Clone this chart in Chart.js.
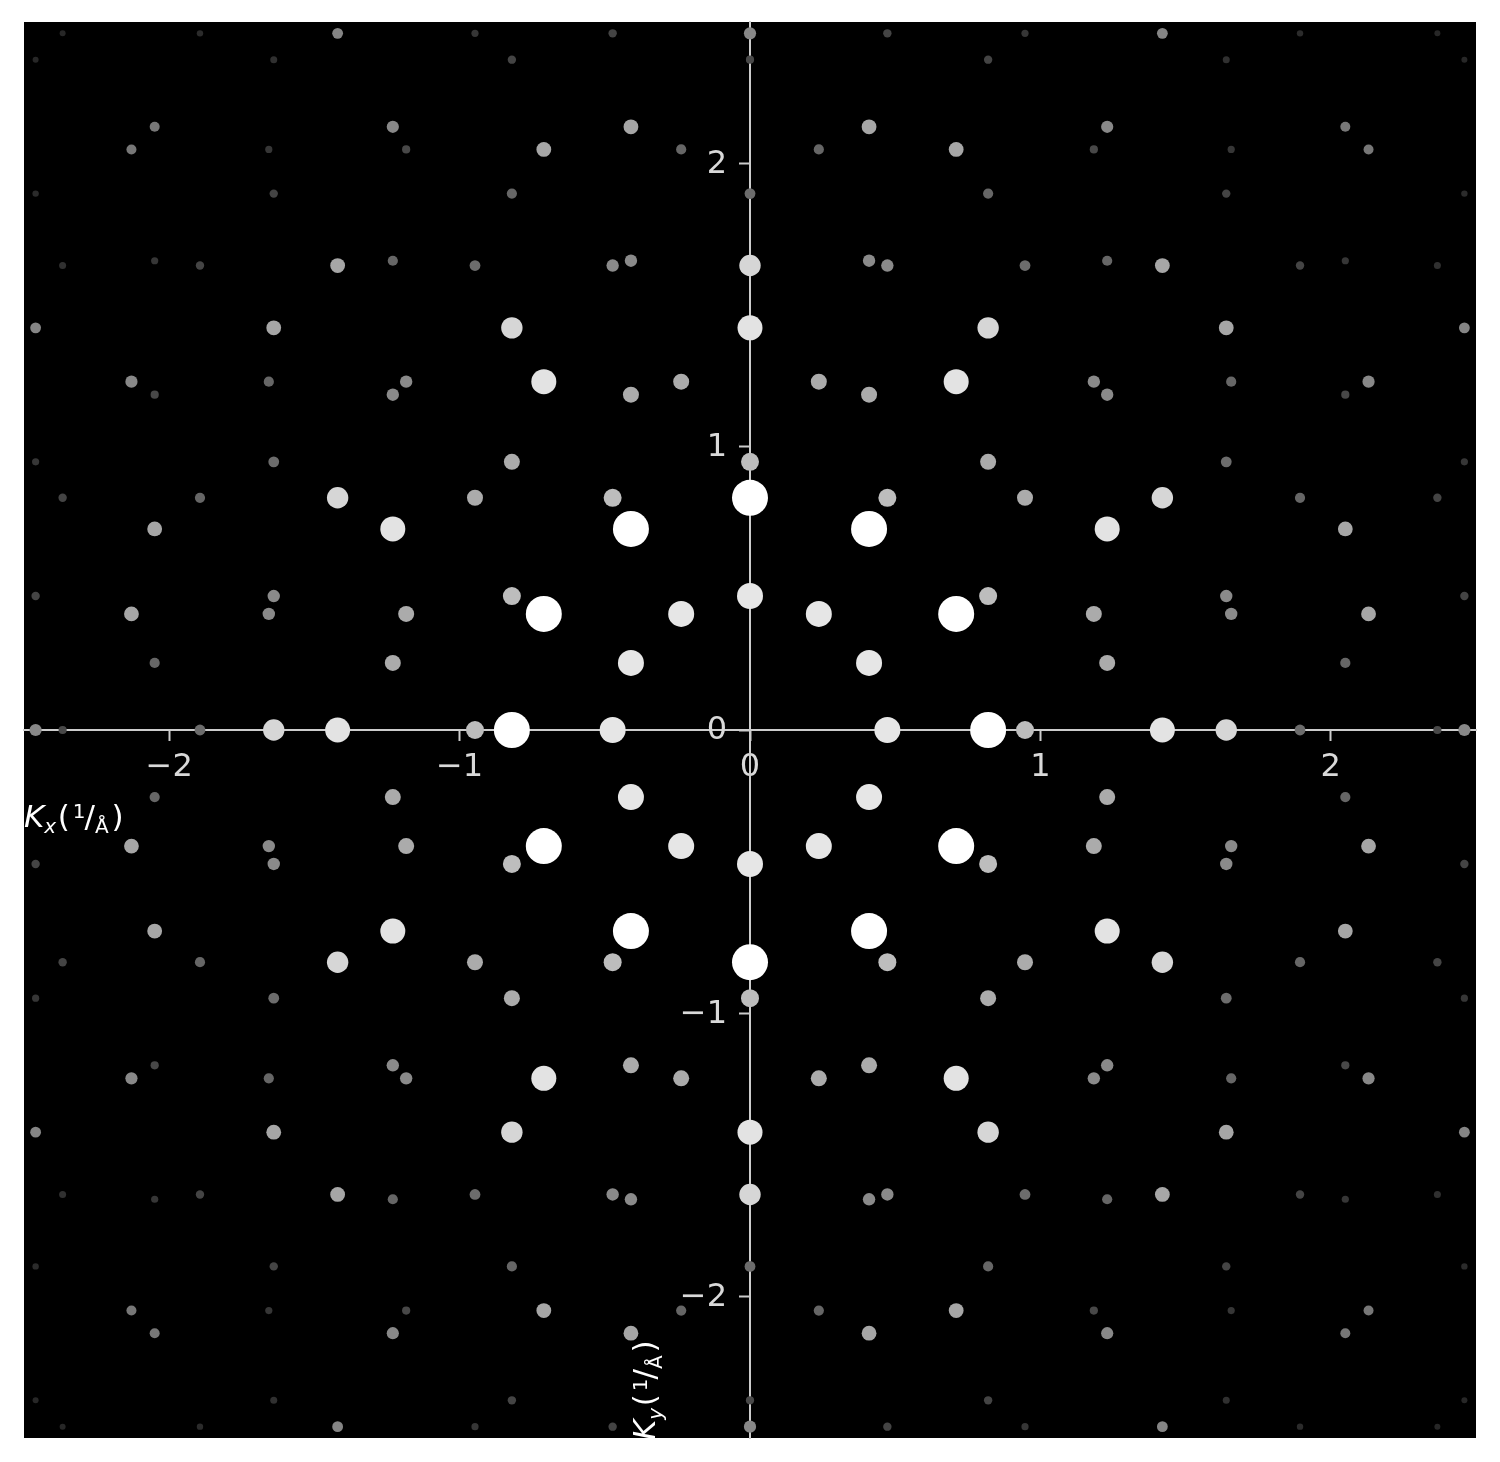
<!DOCTYPE html>
<html>
<head>
<meta charset="utf-8">
<script src="https://cdn.jsdelivr.net/npm/chart.js@4.4.1/dist/chart.umd.min.js"></script>
<style>
html,body{margin:0;padding:0;background:#ffffff;}
#wrap{width:1500px;height:1462px;position:relative;}
</style>
</head>
<body>
<div id="wrap"><canvas id="c"></canvas></div>
<script>
// ---- tick values (1/Å) ----
const tickValues = [-2, -1, 0, 1, 2];
const xAxisLabelSub = 'x';
const yAxisLabelSub = 'y';

// ---- diffraction spot positions (Kx, Ky in 1/Å), grouped by spot brightness ----
const spotsBrightest = [
  [0.710,0.41],[-0.710,0.41],[0.710,-0.41],[-0.710,-0.41],[0,0.82],[0,-0.82],
  [0.41,0.710],[-0.41,0.710],[0.41,-0.710],[-0.41,-0.710],[0.82,0],[-0.82,0]
];
const spotsInner = [
  [0.473,0],[-0.473,0],[0.237,0.41],[-0.237,0.41],[0.237,-0.41],[-0.237,-0.41],
  [0,0.473],[0,-0.473],[0.41,0.237],[0.41,-0.237],[-0.41,0.237],[-0.41,-0.237]
];
const spotsR9 = [
  [1.42,0],[-1.42,0],[0.710,1.23],[-0.710,1.23],[0.710,-1.23],[-0.710,-1.23],
  [0,1.42],[0,-1.42],[1.23,0.710],[-1.23,0.710],[1.23,-0.710],[-1.23,-0.710]
];
const spotsR12 = [
  [1.42,0.82],[-1.42,0.82],[1.42,-0.82],[-1.42,-0.82],[0,1.64],[0,-1.64],
  [0.82,1.42],[-0.82,1.42],[0.82,-1.42],[-0.82,-1.42],[1.64,0],[-1.64,0]
];
const spotsR4 = [
  [0.947,0],[-0.947,0],[0.473,0.82],[-0.473,0.82],[0.473,-0.82],[-0.473,-0.82],
  [0,0.947],[0,-0.947],[0.82,0.473],[-0.82,0.473],[0.82,-0.473],[-0.82,-0.473]
];
const spotsR7 = [
  [1.184,0.41],[-1.184,0.41],[1.184,-0.41],[-1.184,-0.41],
  [0.237,1.23],[-0.237,1.23],[0.237,-1.23],[-0.237,-1.23],
  [0.947,0.82],[-0.947,0.82],[0.947,-0.82],[-0.947,-0.82],
  [0.41,1.184],[-0.41,1.184],[0.41,-1.184],[-0.41,-1.184],
  [1.23,0.237],[-1.23,0.237],[1.23,-0.237],[-1.23,-0.237],
  [0.82,0.947],[-0.82,0.947],[0.82,-0.947],[-0.82,-0.947]
];
const spotsR21 = [
  [2.13,0.41],[-2.13,0.41],[2.13,-0.41],[-2.13,-0.41],
  [1.42,1.64],[-1.42,1.64],[1.42,-1.64],[-1.42,-1.64],
  [0.710,2.05],[-0.710,2.05],[0.710,-2.05],[-0.710,-2.05],
  [0.41,2.13],[-0.41,2.13],[0.41,-2.13],[-0.41,-2.13],
  [1.64,1.42],[-1.64,1.42],[1.64,-1.42],[-1.64,-1.42],
  [2.05,0.710],[-2.05,0.710],[2.05,-0.710],[-2.05,-0.710]
];
const spotsR13 = [
  [1.657,0.41],[-1.657,0.41],[1.657,-0.41],[-1.657,-0.41],
  [1.184,1.23],[-1.184,1.23],[1.184,-1.23],[-1.184,-1.23],
  [0.473,1.64],[-0.473,1.64],[0.473,-1.64],[-0.473,-1.64],
  [0.41,1.657],[-0.41,1.657],[0.41,-1.657],[-0.41,-1.657],
  [1.23,1.184],[-1.23,1.184],[1.23,-1.184],[-1.23,-1.184],
  [1.64,0.473],[-1.64,0.473],[1.64,-0.473],[-1.64,-0.473]
];
const spotsR27 = [
  [2.13,1.23],[-2.13,1.23],[2.13,-1.23],[-2.13,-1.23],[0,2.46],[0,-2.46],
  [1.23,2.13],[-1.23,2.13],[1.23,-2.13],[-1.23,-2.13],[2.46,0],[-2.46,0]
];
const spotsR36 = [
  [1.42,2.46],[-1.42,2.46],[1.42,-2.46],[-1.42,-2.46],
  [2.46,1.42],[-2.46,1.42],[2.46,-1.42],[-2.46,-1.42]
];
const spotsR16 = [
  [1.894,0],[-1.894,0],[0.947,1.64],[-0.947,1.64],[0.947,-1.64],[-0.947,-1.64],
  [0,1.894],[0,-1.894],[1.64,0.947],[-1.64,0.947],[1.64,-0.947],[-1.64,-0.947]
];
const spotsR19 = [
  [1.894,0.82],[-1.894,0.82],[1.894,-0.82],[-1.894,-0.82],
  [1.657,1.23],[-1.657,1.23],[1.657,-1.23],[-1.657,-1.23],
  [0.237,2.05],[-0.237,2.05],[0.237,-2.05],[-0.237,-2.05],
  [0.82,1.894],[-0.82,1.894],[0.82,-1.894],[-0.82,-1.894],
  [1.23,1.657],[-1.23,1.657],[1.23,-1.657],[-1.23,-1.657],
  [2.05,0.237],[-2.05,0.237],[2.05,-0.237],[-2.05,-0.237]
];
const spotsR39 = [
  [2.13,2.05],[-2.13,2.05],[2.13,-2.05],[-2.13,-2.05],
  [2.05,2.13],[-2.05,2.13],[2.05,-2.13],[-2.05,-2.13]
];
const spotsR28 = [
  [2.367,0.82],[-2.367,0.82],[2.367,-0.82],[-2.367,-0.82],
  [1.894,1.64],[-1.894,1.64],[1.894,-1.64],[-1.894,-1.64],
  [0.473,2.46],[-0.473,2.46],[0.473,-2.46],[-0.473,-2.46],
  [0.82,2.367],[-0.82,2.367],[0.82,-2.367],[-0.82,-2.367],
  [1.64,1.894],[-1.64,1.894],[1.64,-1.894],[-1.64,-1.894],
  [2.46,0.473],[-2.46,0.473],[2.46,-0.473],[-2.46,-0.473]
];
const spotsR25 = [
  [2.367,0],[-2.367,0],[1.184,2.05],[-1.184,2.05],[1.184,-2.05],[-1.184,-2.05],
  [0,2.367],[0,-2.367],[2.05,1.184],[-2.05,1.184],[2.05,-1.184],[-2.05,-1.184]
];
const spotsR31 = [
  [1.657,2.05],[-1.657,2.05],[1.657,-2.05],[-1.657,-2.05],
  [0.947,2.46],[-0.947,2.46],[0.947,-2.46],[-0.947,-2.46],
  [2.05,1.657],[-2.05,1.657],[2.05,-1.657],[-2.05,-1.657],
  [2.46,0.947],[-2.46,0.947],[2.46,-0.947],[-2.46,-0.947]
];
const spotsR37 = [
  [2.367,1.64],[-2.367,1.64],[2.367,-1.64],[-2.367,-1.64],
  [1.64,2.367],[-1.64,2.367],[1.64,-2.367],[-1.64,-2.367]
];
const spotsR43 = [
  [1.894,2.46],[-1.894,2.46],[1.894,-2.46],[-1.894,-2.46],
  [2.46,1.894],[-2.46,1.894],[2.46,-1.894],[-2.46,-1.894]
];
const spotsR52 = [
  [2.367,2.46],[-2.367,2.46],[2.367,-2.46],[-2.367,-2.46],
  [2.46,2.367],[-2.46,2.367],[2.46,-2.367],[-2.46,-2.367]
];

// ---- group order (brightest first) and their marker styles ----
const spotGroups = [spotsBrightest, spotsInner, spotsR9, spotsR12, spotsR4, spotsR7, spotsR21,
  spotsR13, spotsR27, spotsR36, spotsR16, spotsR19, spotsR39, spotsR28, spotsR25, spotsR31,
  spotsR37, spotsR43, spotsR52];
const groupRadius = [18, 13, 12.5, 10.7, 9, 8, 7.4, 6.2, 6.1, 5.4, 5.4, 5.1, 5, 4.2, 4.1, 3.6, 3.5, 3.2, 3.0];
const groupGray   = [255, 230, 227, 214, 189, 171, 166, 138, 136, 133, 108, 102, 119, 68, 72, 54, 48, 43, 39];

const datasets = spotGroups.map((pts, i) => {
  const g = groupGray[i];
  const col = `rgb(${g},${g},${g})`;
  return {
    data: pts.map(p => ({x: p[0], y: p[1]})),
    pointRadius: groupRadius[i],
    pointHoverRadius: groupRadius[i],
    backgroundColor: col,
    borderColor: col,
    borderWidth: 0,
    pointBorderWidth: 0,
    showLine: false,
    clip: 0
  };
});

const fmtTick = v => (v < 0 ? '\u2212' + Math.abs(v) : String(v));

const bgPlugin = {
  id: 'bg',
  beforeDraw(chart) {
    const {ctx, chartArea: a} = chart;
    ctx.save();
    ctx.fillStyle = '#000000';
    ctx.fillRect(a.left, a.top, a.right - a.left, a.bottom - a.top);
    ctx.restore();
  }
};

function drawKLabel(ctx, sub) {
  const big = 31, small = 20;
  let x = 0;
  ctx.fillStyle = '#ffffff';
  ctx.textBaseline = 'alphabetic';
  ctx.textAlign = 'left';
  ctx.font = `italic ${big}px "DejaVu Sans"`;
  ctx.fillText('K', x, 0); x += ctx.measureText('K').width;
  ctx.font = `italic ${small}px "DejaVu Sans"`;
  ctx.fillText(sub, x, 6.5); x += ctx.measureText(sub).width + 1.5;
  ctx.font = `${big}px "DejaVu Sans"`;
  ctx.fillText('(', x, 0); x += ctx.measureText('(').width + 3;
  ctx.font = `${small}px "DejaVu Sans"`;
  ctx.fillText('1', x, -8.5); x += ctx.measureText('1').width - 1;
  ctx.font = `${big}px "DejaVu Sans"`;
  ctx.fillText('/', x, 0); x += ctx.measureText('/').width;
  ctx.font = `${small}px "DejaVu Sans"`;
  ctx.fillText('\u00C5', x, 6.5); x += ctx.measureText('\u00C5').width + 3;
  ctx.font = `${big}px "DejaVu Sans"`;
  ctx.fillText(')', x, 0);
}

const labelPlugin = {
  id: 'axisLabels',
  afterDraw(chart) {
    const {ctx, chartArea: a, scales} = chart;
    // y tick labels, placed left of the tick marks
    const xZero = scales.x.getPixelForValue(0);
    ctx.save();
    ctx.fillStyle = '#d9d9d9';
    ctx.font = '32px "DejaVu Sans"';
    ctx.textAlign = 'right';
    ctx.textBaseline = 'middle';
    tickValues.forEach(v => {
      ctx.fillText(fmtTick(v), xZero - 23, scales.y.getPixelForValue(v) + 1);
    });
    ctx.restore();

    ctx.save();
    ctx.beginPath();
    ctx.rect(a.left, a.top, a.right - a.left, a.bottom - a.top);
    ctx.clip();
    // Kx label at the left edge, just below the horizontal axis
    ctx.save();
    ctx.translate(a.left, 826.5);
    drawKLabel(ctx, xAxisLabelSub);
    ctx.restore();
    // Ky label rotated, at the bottom edge left of the vertical axis
    ctx.save();
    ctx.translate(655, a.bottom + 2);
    ctx.rotate(-Math.PI / 2);
    drawKLabel(ctx, yAxisLabelSub);
    ctx.restore();
    ctx.restore();
  }
};

const noPad = s => { s.paddingTop = 0; s.paddingBottom = 0; s.paddingLeft = 0; s.paddingRight = 0; };

const axisCommon = {
  type: 'linear',
  min: -2.5,
  max: 2.5,
  z: 1,
  afterBuildTicks: s => { s.ticks = tickValues.map(v => ({value: v})); },
  afterFit: noPad,
  grid: {
    display: true,
    drawOnChartArea: false,
    drawTicks: true,
    tickLength: 10,
    tickColor: '#cccccc',
    tickWidth: 2
  },
  border: {display: true, color: '#cccccc', width: 2}
};

new Chart(document.getElementById('c'), {
  type: 'scatter',
  data: {datasets},
  options: {
    responsive: true,
    maintainAspectRatio: false,
    animation: false,
    events: [],
    layout: {padding: {left: 24, right: 24, top: 22, bottom: 24}},
    plugins: {legend: {display: false}, tooltip: {enabled: false}},
    scales: {
      x: Object.assign({}, axisCommon, {
        position: {y: 0},
        ticks: {
          display: true, color: '#d9d9d9', font: {family: 'DejaVu Sans', size: 32},
          autoSkip: false, maxRotation: 0, includeBounds: false, padding: 8, callback: fmtTick
        }
      }),
      y: Object.assign({}, axisCommon, {
        position: {x: 0},
        ticks: {display: false, includeBounds: false}
      })
    }
  },
  plugins: [bgPlugin, labelPlugin]
});
</script>
</body>
</html>
